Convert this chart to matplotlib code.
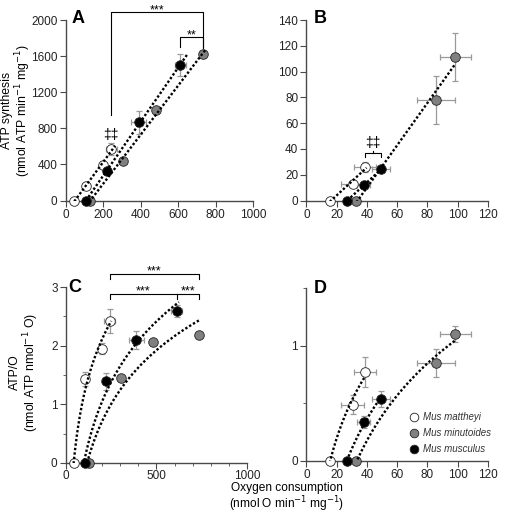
import numpy as np
import matplotlib
matplotlib.use("Agg")
import matplotlib.pyplot as plt
from matplotlib.ticker import MultipleLocator

plt.rcParams['font.family'] = ['Liberation Sans', 'DejaVu Sans']
plt.rcParams['font.size'] = 9

# ---- data: oxygen consumption (nmol O min-1 mg-1) ----
# panels A / C (one set of points per species)
ac_mat_o = [45, 107, 198, 243]
ac_mus_o = [108, 220, 390, 612]
ac_min_o = [130, 305, 480, 735]
ac_mat_oerr = [0, 8, 10, 30]
ac_mus_oerr = [0, 12, 40, 30]
ac_min_oerr = [0, 12, 12, 15]

# A: ATP synthesis
a_mat = [0, 163, 395, 573]
a_mus = [0, 330, 865, 1500]
a_min = [0, 440, 1000, 1620]
a_mat_err = [0, 15, 20, 65]
a_mus_err = [0, 30, 130, 125]
a_min_err = [0, 20, 25, 40]

# C: ATP/O
c_mat = [0, 1.43, 1.95, 2.42]
c_mus = [0, 1.39, 2.10, 2.59]
c_min = [0, 1.45, 2.07, 2.19]
c_mat_err = [0, 0.12, 0.10, 0.20]
c_mus_err = [0, 0.15, 0.15, 0.10]
c_min_err = [0, 0, 0, 0.03]

# panels B / D
bd_mat_o = [15.4, 30.5, 38.7]
bd_mus_o = [27.0, 37.7, 49.4]
bd_min_o = [33.0, 85.5, 98.4]
bd_mat_oerr = [0, 7.7, 7.5]
bd_mus_oerr = [0, 4.5, 6.0]
bd_min_oerr = [0, 12.5, 10.4]

b_mat = [0, 12.9, 26.0]
b_mus = [0, 11.8, 24.2]
b_min = [0, 78.0, 111.4]
b_mat_err = [0, 2, 4]
b_mus_err = [0, 2, 2]
b_min_err = [0, 18.8, 18.4]

d_mat = [0, 0.49, 0.77]
d_mus = [0, 0.34, 0.54]
d_min = [0, 0.85, 1.10]
d_mat_err = [0, 0.08, 0.13]
d_mus_err = [0, 0.05, 0.07]
d_min_err = [0, 0.12, 0.07]

species = ['Mus mattheyi', 'Mus minutoides', 'Mus musculus']
fills = {'Mus mattheyi': 'white', 'Mus minutoides': '#808080', 'Mus musculus': 'black'}

SPINE = '#4a4a4a'
ECOL = '#9a9a9a'
TICK_FS = 8.5


def style(ax):
    for s in ['top', 'right']:
        ax.spines[s].set_visible(False)
    for s in ['left', 'bottom']:
        ax.spines[s].set_color(SPINE)
        ax.spines[s].set_linewidth(1.0)
    ax.tick_params(which='both', direction='out', color=SPINE, labelsize=TICK_FS,
                   pad=2, labelcolor='#222222')
    ax.tick_params(which='major', length=4)
    ax.tick_params(which='minor', length=2.5)


def points(ax, x, y, xerr, yerr, sp):
    ax.errorbar(x, y, xerr=xerr, yerr=yerr, fmt='none', ecolor=ECOL,
                elinewidth=0.9, capsize=2, capthick=0.9, zorder=2, clip_on=False)
    ax.plot(x, y, 'o', ms=6.9, mfc=fills[sp], mec='#222222', mew=0.6,
            zorder=3, clip_on=False, label=sp)


def dotted(ax, xs, ys):
    ax.plot(xs, ys, color='black', lw=1.7, dashes=(1.0, 0.9), zorder=4)


def lin_fit(ax, x, y, lo, hi):
    k, b = np.polyfit(x, y, 1)
    xs = np.linspace(min(x) - lo, max(x) + hi, 50)
    dotted(ax, xs, k * xs + b)


def log_fit(ax, x, y, lo, hi):
    k, b = np.polyfit(np.log(x), y, 1)
    xs = np.linspace(min(x) * lo, max(x) * hi, 200)
    dotted(ax, xs, k * np.log(xs) + b)


def bracket(ax, x0, x1, y, yl, yr, mids=(), ym=None):
    ax.plot([x0, x0, x1, x1], [yl, y, y, yr], color='black', lw=0.8,
            clip_on=False)
    for m in mids:
        ax.plot([m, m], [y, ym], color='black', lw=0.8, clip_on=False)


def stars(ax, x, y, s):
    ax.text(x, y, s, ha='center', va='baseline', fontsize=9)


fig = plt.figure(figsize=(5.07, 5.13), dpi=100)
axA = fig.add_axes([0.130, 0.609, 0.369, 0.352])
axB = fig.add_axes([0.6045, 0.609, 0.358, 0.352])
axC = fig.add_axes([0.130, 0.0975, 0.357, 0.343])
axD = fig.add_axes([0.6045, 0.1014, 0.358, 0.337])

# ---- A ----
ax = axA
style(ax)
points(ax, ac_mat_o, a_mat, ac_mat_oerr, a_mat_err, 'Mus mattheyi')
points(ax, ac_min_o, a_min, ac_min_oerr, a_min_err, 'Mus minutoides')
points(ax, ac_mus_o, a_mus, ac_mus_oerr, a_mus_err, 'Mus musculus')
lin_fit(ax, ac_mat_o, a_mat, 0, 20)
lin_fit(ax, ac_mus_o, a_mus, 15, 35)
lin_fit(ax, ac_min_o, a_min, 5, 15)
ax.set_xlim(0, 1000)
ax.set_ylim(0, 2000)
ax.xaxis.set_major_locator(MultipleLocator(200))
ax.yaxis.set_major_locator(MultipleLocator(400))
bracket(ax, ac_mat_o[3], ac_min_o[3], 2090, 950, 1690)
stars(ax, (ac_mat_o[3] + ac_min_o[3]) / 2, 2075, '***')
bracket(ax, ac_mus_o[3], ac_min_o[3], 1810, 1705, 1705)
stars(ax, (ac_mus_o[3] + ac_min_o[3]) / 2, 1800, '**')
ax.text(ac_mat_o[3], 650, '‡‡', ha='center', va='bottom', fontsize=10)
ax.text(0.032, 1.01, 'A', transform=ax.transAxes, fontsize=13, fontweight='bold',
        ha='left', va='center')

# ---- B ----
ax = axB
style(ax)
points(ax, bd_mat_o, b_mat, bd_mat_oerr, b_mat_err, 'Mus mattheyi')
points(ax, bd_min_o, b_min, bd_min_oerr, b_min_err, 'Mus minutoides')
points(ax, bd_mus_o, b_mus, bd_mus_oerr, b_mus_err, 'Mus musculus')
lin_fit(ax, bd_mat_o, b_mat, 0, 1)
lin_fit(ax, bd_mus_o, b_mus, 0, 1)
lin_fit(ax, bd_min_o, b_min, 0, 0)
ax.set_xlim(0, 120)
ax.set_ylim(0, 140)
ax.xaxis.set_major_locator(MultipleLocator(20))
ax.yaxis.set_major_locator(MultipleLocator(20))
bm = (bd_mat_o[2] + bd_mus_o[2]) / 2
bracket(ax, bd_mat_o[2], bd_mus_o[2], 36.8, 33.8, 33.8, mids=[bm], ym=38.3)
ax.text(bm, 39, '‡‡', ha='center', va='bottom', fontsize=10)
ax.text(0.041, 1.01, 'B', transform=ax.transAxes, fontsize=13, fontweight='bold',
        ha='left', va='center')

# ---- C ----
ax = axC
style(ax)
ax.tick_params(axis='x', pad=1)
points(ax, ac_mat_o, c_mat, ac_mat_oerr, c_mat_err, 'Mus mattheyi')
points(ax, ac_min_o, c_min, ac_min_oerr, c_min_err, 'Mus minutoides')
points(ax, ac_mus_o, c_mus, ac_mus_oerr, c_mus_err, 'Mus musculus')
log_fit(ax, ac_mat_o, c_mat, 0.8, 1.03)
log_fit(ax, ac_mus_o, c_mus, 0.85, 1.02)
log_fit(ax, ac_min_o, c_min, 0.9, 1.0)
ax.set_xlim(0, 1000)
ax.set_ylim(0, 3)
ax.xaxis.set_major_locator(MultipleLocator(500))
ax.xaxis.set_minor_locator(MultipleLocator(100))
ax.yaxis.set_major_locator(MultipleLocator(1))
ax.yaxis.set_minor_locator(MultipleLocator(0.5))
bracket(ax, ac_mat_o[3], ac_min_o[3], 3.22, 3.13, 3.13)
stars(ax, (ac_mat_o[3] + ac_min_o[3]) / 2, 3.21, '***')
bracket(ax, ac_mat_o[3], ac_min_o[3], 2.88, 2.79, 2.79, mids=[ac_mus_o[3]], ym=2.79)
stars(ax, (ac_mat_o[3] + ac_mus_o[3]) / 2, 2.87, '***')
stars(ax, (ac_mus_o[3] + ac_min_o[3]) / 2, 2.87, '***')
ax.text(0.012, 1.0, 'C', transform=ax.transAxes, fontsize=13, fontweight='bold',
        ha='left', va='center')

# ---- D ----
ax = axD
style(ax)
points(ax, bd_mat_o, d_mat, bd_mat_oerr, d_mat_err, 'Mus mattheyi')
points(ax, bd_min_o, d_min, bd_min_oerr, d_min_err, 'Mus minutoides')
points(ax, bd_mus_o, d_mus, bd_mus_oerr, d_mus_err, 'Mus musculus')
log_fit(ax, bd_mat_o, d_mat, 0.95, 1.0)
log_fit(ax, bd_mus_o, d_mus, 0.95, 1.0)
log_fit(ax, bd_min_o, d_min, 0.95, 1.0)
ax.set_xlim(0, 120)
ax.set_ylim(0, 1.5)
ax.xaxis.set_major_locator(MultipleLocator(20))
ax.yaxis.set_major_locator(MultipleLocator(1))
ax.yaxis.set_minor_locator(MultipleLocator(0.5))
ax.text(0.041, 1.0, 'D', transform=ax.transAxes, fontsize=13, fontweight='bold',
        ha='left', va='center')
h, l = ax.get_legend_handles_labels()
order = [l.index(s) for s in species]
leg = ax.legend([h[i] for i in order], [l[i] for i in order], loc='upper left',
                bbox_to_anchor=(0.545, 0.31), frameon=False,
                prop={'style': 'italic', 'size': 7}, handlelength=0.8,
                handletextpad=0.5, labelspacing=0.6, borderpad=0, markerscale=0.9)
for t in leg.get_texts():
    t.set_color('#333333')

# ---- axis labels ----
fig.text(17 / 507, 1 - 110 / 513, 'ATP synthesis\n(nmol ATP min$^{-1}$ mg$^{-1}$)',
         rotation=90, ha='center', va='center', fontsize=8.8, linespacing=1.05)
fig.text(25 / 507, 1 - 372 / 513, 'ATP/O\n(nmol ATP nmol$^{-1}$ O)',
         rotation=90, ha='center', va='center', fontsize=8.8, linespacing=1.05)
fig.text(287 / 507, 1 - 498 / 513, 'Oxygen consumption\n(nmol O min$^{-1}$ mg$^{-1}$)',
         ha='center', va='center', fontsize=8.6, linespacing=1.0)

fig.savefig('out.png', dpi=100)
